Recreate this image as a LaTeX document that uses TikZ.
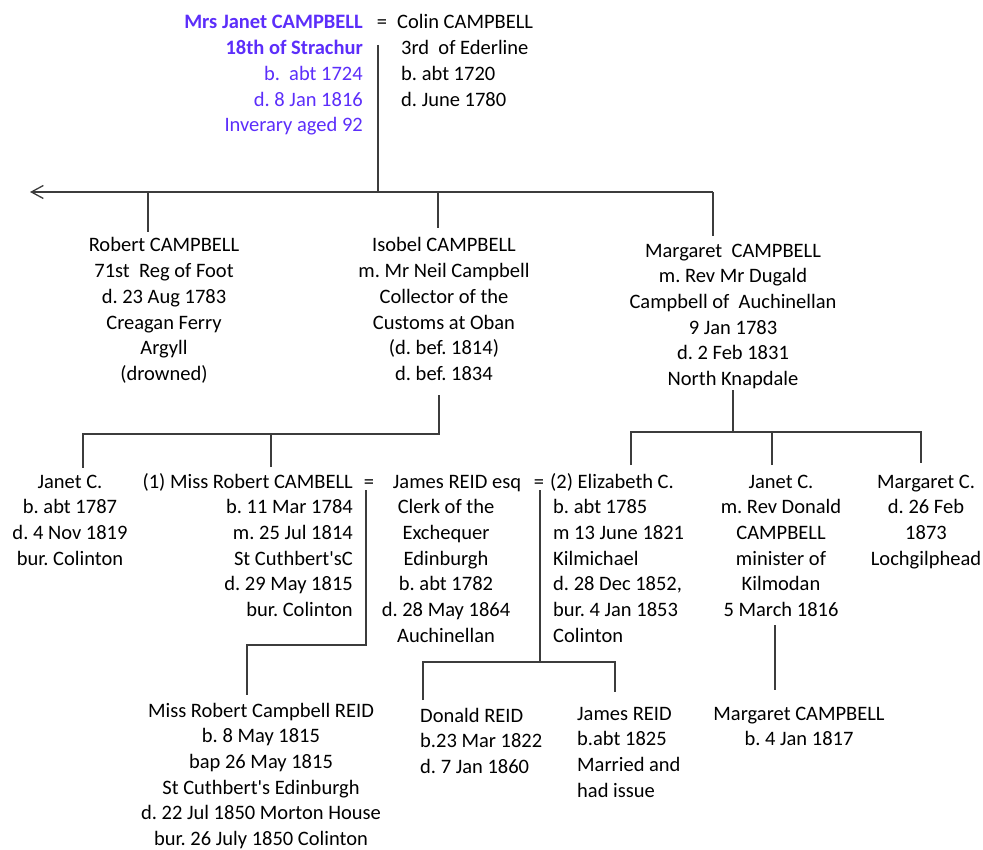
\documentclass[tikz,border=0pt]{standalone}
\usepackage{fontspec}
\setmainfont{Carlito}
\frenchspacing
\usetikzlibrary{arrows.meta}
\definecolor{spouseblue}{RGB}{92,46,250}
\definecolor{linegray}{RGB}{60,60,60}

\begin{document}
\begin{tikzpicture}[
    x=1pt, y=-1pt,
    every node/.style={inner sep=0pt, font=\fontsize{20.5}{25.7}\selectfont},
    PersonShape/.style={align=center, anchor=base},
    RightShape/.style={align=right, anchor=base east},
    LeftShape/.style={align=left, anchor=base west},
    SpouseShape/.style={RightShape, text=spouseblue},
    link/.style={draw=linegray, line width=1.3pt}
]
\useasboundingbox (0,0) rectangle (983,850);

% the couple (nodes sit on the baseline of their last line)
\node (janet) [SpouseShape] at (363,131.8) {\textbf{Mrs Janet CAMPBELL}\\
    \textbf{18th of Strachur}\\ b.\ \ abt 1724\\ d. 8 Jan 1816\hspace*{4pt}\\
    Inverary aged 92};
\node (eqTop) [PersonShape] at (382,29) {=};
\node (colin) [LeftShape] at (401,106.1) {\hspace*{-4pt}Colin CAMPBELL\\
    3rd\ \ of Ederline\\ b. abt 1720\\ d. June 1780};

% their children
\node (robert) [PersonShape] at (164,380.5) {Robert CAMPBELL\\ 71st\ \ Reg of Foot\\
    d. 23 Aug 1783\\ Creagan Ferry\\ Argyll\\ (drowned)};
\node (isobel) [PersonShape] at (444,380.5) {Isobel CAMPBELL\\ m. Mr Neil Campbell\\
    Collector of the\\ Customs at Oban\\ (d. bef. 1814)\\ d. bef. 1834};
\node (margaret) [PersonShape] at (733,385.5) {Margaret\ \ CAMPBELL\\ m. Rev Mr Dugald\\
    Campbell of\ \ Auchinellan\\ 9 Jan 1783\\ d. 2 Feb 1831\\ North Knapdale};

% grandchildren and spouses
\node (janetC) [PersonShape] at (70,565.1) {Janet C.\\ b. abt 1787\\ d. 4 Nov 1819\\
    bur. Colinton};
\node (missRobert) [RightShape] at (353,616.5) {(1) Miss Robert CAMBELL\\
    b. 11 Mar 1784\hspace*{5pt}\\ m. 25 Jul 1814\\ St Cuthbert\textquotesingle sC\\
    d. 29 May 1815\\ bur. Colinton};
\node (eqOne) [PersonShape] at (369,488) {=};
\node (jamesReid) [PersonShape] at (446,642.2) {\hspace*{22pt}James REID esq\\
    Clerk of the\\ Exchequer\\ Edinburgh\\ b. abt 1782\\ d. 28 May 1864\\ Auchinellan};
\node (eqTwo) [PersonShape] at (539,488) {=};
\node (elizabeth) [LeftShape] at (553,642.2) {\hspace*{-3pt}(2) Elizabeth C.\\
    b. abt 1785\\ m 13 June 1821\\ Kilmichael\\ d. 28 Dec 1852,\\
    bur. 4 Jan 1853\\ Colinton};
\node (janetTwo) [PersonShape] at (781,616.5) {Janet C.\\ m. Rev Donald\\ CAMPBELL\\
    minister of\\ Kilmodan\\ 5 March 1816};
\node (margaretC) [PersonShape] at (926,565.1) {Margaret C.\\ d. 26 Feb\\ 1873\\
    Lochgilphead};

% great-grandchildren
\node (missReid) [PersonShape] at (261,845.5) {Miss Robert Campbell REID\\
    b. 8 May 1815\\ bap 26 May 1815\\ St Cuthbert\textquotesingle s Edinburgh\\
    d. 22 Jul 1850 Morton House\\ bur. 26 July 1850 Colinton};
\node (donald) [LeftShape] at (420,773.4) {Donald REID\\ b.23 Mar 1822\\ d. 7 Jan 1860};
\node (jamesJr) [LeftShape] at (577,797.1) {James REID\\ b.abt 1825\\ Married and\\
    had issue};
\node (margaretCB) [PersonShape] at (799,745.7) {Margaret CAMPBELL\\ b. 4 Jan 1817};

% line ends
\coordinate (coupleTop) at (378,45);
\coordinate (coupleBar) at (378,192);
\coordinate (barLeft) at (30,192);
\coordinate (barRight) at (713,192);
\coordinate (robertUp) at (148,232);
\coordinate (isobelUp) at (438,228);
\coordinate (margaretUp) at (713,236);
\coordinate (isobelDown) at (439,395);
\coordinate (isobelBar) at (439,434);
\coordinate (janetCUp) at (83,468);
\coordinate (missRobertUp) at (271,467);
\coordinate (margaretDown) at (733,390);
\coordinate (margaretBar) at (733,432);
\coordinate (elizabethUp) at (631,465);
\coordinate (janetTwoUp) at (772,465);
\coordinate (margaretCUp) at (921,463);
\coordinate (eqOneTop) at (366,490);
\coordinate (eqOneBar) at (366,645);
\coordinate (missReidUp) at (247,695);
\coordinate (eqTwoTop) at (540,490);
\coordinate (eqTwoBar) at (540,662);
\coordinate (donaldUp) at (423,700);
\coordinate (jamesJrUp) at (615,692);
\coordinate (janetTwoDown) at (775,625);
\coordinate (margaretCBUp) at (775,690);

% connectors
\draw[link] (coupleTop) -- (coupleBar);
\draw[link, -{Straight Barb[length=12pt,width=13pt]}] (barRight) -- (barLeft);
\draw[link] (robertUp) -- (robertUp |- coupleBar);
\draw[link] (isobelUp) -- (isobelUp |- coupleBar);
\draw[link] (margaretUp) -- (barRight);
\draw[link] (isobelDown) -- (isobelBar) -| (janetCUp);
\draw[link] (missRobertUp) -- (missRobertUp |- isobelBar);
\draw[link] (margaretDown) -- (margaretBar);
\draw[link] (elizabethUp) |- (margaretBar) -| (margaretCUp);
\draw[link] (janetTwoUp) -- (janetTwoUp |- margaretBar);
\draw[link] (eqOneTop) -- (eqOneBar) -| (missReidUp);
\draw[link] (eqTwoTop) -- (eqTwoBar);
\draw[link] (donaldUp) |- (eqTwoBar) -| (jamesJrUp);
\draw[link] (janetTwoDown) -- (margaretCBUp);
\end{tikzpicture}
\end{document}
